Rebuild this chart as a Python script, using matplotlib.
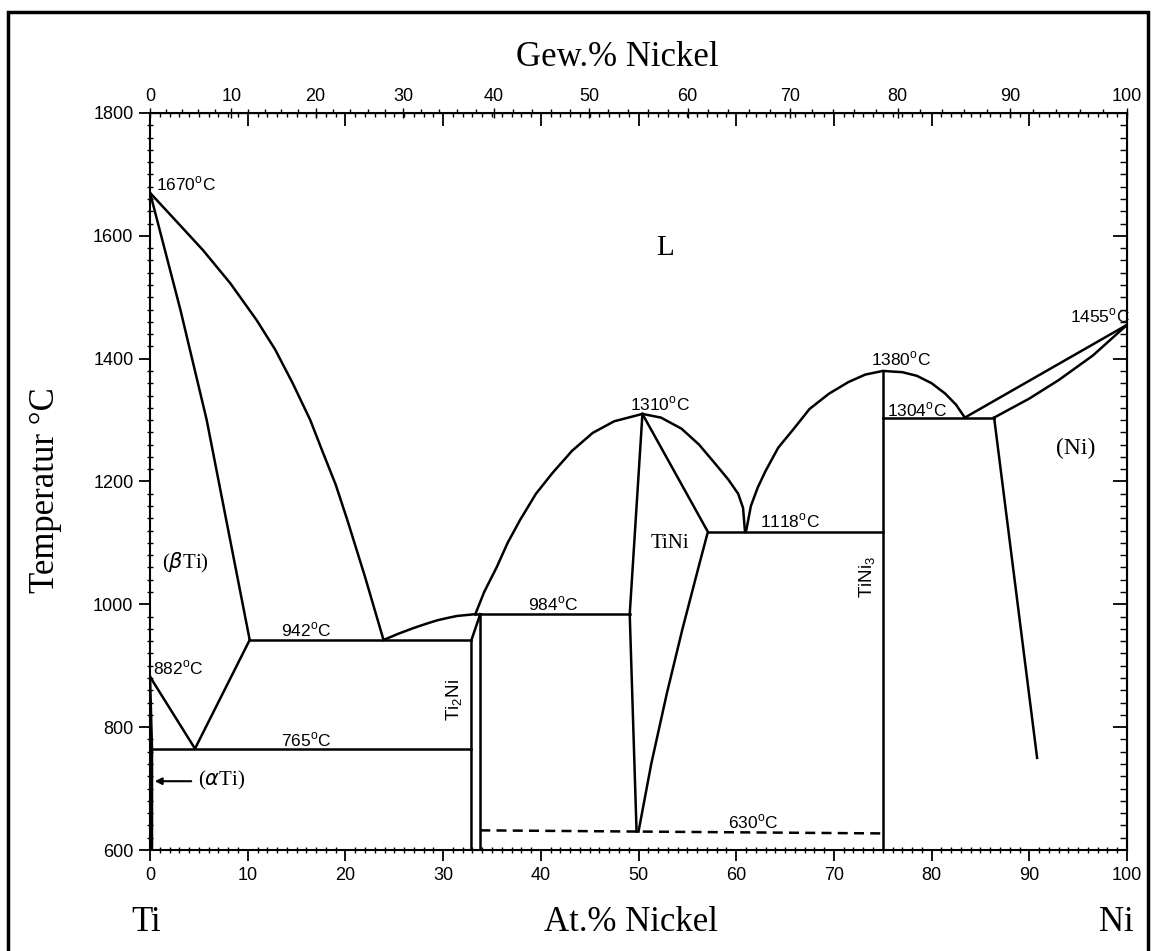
import numpy as np
import matplotlib
matplotlib.use('Agg')
import matplotlib.pyplot as plt
from matplotlib.patches import Rectangle

plt.rcParams['mathtext.fontset'] = 'custom'
plt.rcParams['mathtext.rm'] = 'Liberation Sans'
plt.rcParams['font.family'] = 'Liberation Sans'

M_NI, M_TI = 58.69, 47.87  # atomic masses, for the Gew.% scale on top

# --- phase boundaries (at.% Ni, temperature in C) ---
ti_liq_x = [0, 2.5, 5.4, 8.2, 10.9, 12.8, 14.6, 16.4, 17.6, 19.0, 20.2, 22.0, 23.9]
ti_liq_t = [1670, 1627, 1577, 1523, 1463, 1415, 1360, 1300, 1251, 1195, 1137, 1045, 942]
beta_sol_x = [0, 3.1, 5.8, 10.2]
beta_sol_t = [1670, 1480, 1300, 942]
beta_solv_x = [0, 4.6, 10.2]
beta_solv_t = [882, 765, 942]
alpha_x = [0, 0.2, 0.2]
alpha_t = [882, 765, 600]
eut765_x = [0.2, 32.9]
eut942_x = [10.2, 32.9]
ti2ni_l_x = [32.9, 32.9, 33.8]
ti2ni_l_t = [600, 942, 984]
ti2ni_r_x = [33.8, 33.8]
ti2ni_r_t = [984, 600]
liq2_x = [23.9, 25.4, 26.9, 28.2, 29.4, 30.5, 31.4, 33.3]
liq2_t = [942, 952, 961, 968, 974, 978, 981, 984]
per984_x = [33.3, 49.1]
dome1_x = [33.3, 34.2, 35.5, 36.6, 37.9, 39.5, 41.2, 43.2, 45.3, 47.5, 50.4,
           52.3, 54.4, 56.2, 57.9, 59.2, 60.2, 60.7, 60.9]
dome1_t = [984, 1020, 1061, 1100, 1138, 1180, 1214, 1250, 1279, 1298, 1310,
           1304, 1286, 1260, 1228, 1203, 1180, 1157, 1118]
tini_l_x = [50.4, 49.1, 49.8]
tini_l_t = [1310, 984, 630]
tini_r_x = [50.4, 57.1, 56.3, 54.5, 52.9, 51.3, 50.0]
tini_r_t = [1310, 1118, 1070, 960, 855, 740, 630]
eut1118_x = [57.1, 75]
dome2_x = [61.0, 61.5, 62.2, 63.0, 64.3, 65.9, 67.5, 69.5, 71.5, 73.2, 75.0,
           77.0, 78.5, 80.0, 81.4, 82.5, 83.4]
dome2_t = [1118, 1160, 1190, 1217, 1255, 1286, 1318, 1343, 1362, 1374, 1380,
           1378, 1372, 1360, 1343, 1325, 1304]
tini3_x = [75, 75]
tini3_t = [600, 1380]
eut1304_x = [75, 86.4]
ni_solv_x = [86.4, 90.8]
ni_solv_t = [1304, 750]
ni_liq_x = [83.4, 100]
ni_liq_t = [1304, 1455]
ni_sol_x = [86.4, 90.0, 93.0, 96.5, 100]
ni_sol_t = [1304, 1335, 1365, 1405, 1455]
ord630_x = [33.8, 75]
ord630_t = [632, 627]

# temperature labels: (x, T, text)
temp_labels = [
    (0.6, 1684, '1670'), (0.3, 897, '882'), (16.0, 958, '942'),
    (16.0, 779, '765'), (41.3, 1000, '984'), (52.2, 1327, '1310'),
    (61.7, 645, '630'), (65.5, 1136, '1118'), (76.9, 1400, '1380'),
    (78.5, 1317, '1304'), (100.3, 1470, '1455'),
]

wt_ticks = [0, 10, 20, 30, 40, 50, 60, 70, 80, 90, 100]


def at2wt(a):
    a = np.asarray(a, dtype=float)
    return 100 * a * M_NI / (a * M_NI + (100 - a) * M_TI)


def wt2at(w):
    w = np.asarray(w, dtype=float)
    return 100 * (w / M_NI) / (w / M_NI + (100 - w) / M_TI)


fig = plt.figure(figsize=(11.56, 9.51), dpi=100)
ax = fig.add_axes([0.1298, 0.1062, 0.8451, 0.775])

lw = 1.8
for xs, ts in [(ti_liq_x, ti_liq_t), (beta_sol_x, beta_sol_t), (beta_solv_x, beta_solv_t),
               (alpha_x, alpha_t), (ti2ni_l_x, ti2ni_l_t), (ti2ni_r_x, ti2ni_r_t),
               (liq2_x, liq2_t), (dome1_x, dome1_t), (tini_l_x, tini_l_t),
               (tini_r_x, tini_r_t), (dome2_x, dome2_t), (tini3_x, tini3_t),
               (ni_solv_x, ni_solv_t), (ni_liq_x, ni_liq_t), (ni_sol_x, ni_sol_t)]:
    ax.plot(xs, ts, color='k', lw=lw, solid_joinstyle='round')
for xs, t in [(eut765_x, 765), (eut942_x, 942), (per984_x, 984),
              (eut1118_x, 1118), (eut1304_x, 1304)]:
    ax.plot(xs, [t, t], color='k', lw=lw)
ax.plot(ord630_x, ord630_t, color='k', lw=lw, ls=(0, (4, 2.5)))

for x, t, s in temp_labels:
    ha = 'right' if s == '1455' else 'left' if s in ('1670', '882') else 'center'
    ax.text(x, t, s + r'$^{\rm o}$C', fontsize=12.5, ha=ha, va='center')

serif = 'Liberation Serif'
ax.text(52.7, 1580, 'L', fontsize=21, family=serif, ha='center', va='center')
ax.text(3.6, 1067, r'($\beta$Ti)', fontsize=15, family=serif, ha='center', va='center')
ax.text(7.3, 713, r'($\alpha$Ti)', fontsize=15, family=serif, ha='center', va='center')
ax.annotate('', xy=(0.2, 712), xytext=(4.5, 712),
            arrowprops=dict(arrowstyle='-|>', color='k', lw=1.5, mutation_scale=10))
ax.text(53.2, 1099, 'TiNi', fontsize=15, family=serif, ha='center', va='center')
ax.text(94.7, 1254, '(Ni)', fontsize=17, family=serif, ha='center', va='center')
ax.text(31.2, 845, r'Ti$_2$Ni', fontsize=13.5, rotation=90, ha='center', va='center')
ax.text(73.5, 1045, r'TiNi$_3$', fontsize=13.5, rotation=90, ha='center', va='center')

ax.set_xlim(0, 100)
ax.set_ylim(600, 1800)
for sp in ax.spines.values():
    sp.set_linewidth(1.5)

ax.set_xticks(np.arange(0, 101, 10))
ax.set_xticks(np.arange(0, 101, 1), minor=True)
ax.set_yticks(np.arange(600, 1801, 200))
ax.set_yticks(np.arange(600, 1801, 20), minor=True)
ax.tick_params(which='major', direction='out', length=8, width=1.3, labelsize=13, pad=4)
ax.tick_params(which='minor', direction='inout', length=5, width=1)

# right side ticks point inward
sy = ax.secondary_yaxis('right')
sy.set_yticks(np.arange(600, 1801, 200))
sy.set_yticks(np.arange(600, 1801, 20), minor=True)
sy.tick_params(which='major', direction='in', length=10, width=1.3, labelright=False)
sy.tick_params(which='minor', direction='in', length=5, width=1)

# top: at.% ticks inward, Gew.% labels
sx = ax.secondary_xaxis('top')
sx.set_xticks(np.arange(0, 101, 10))
sx.set_xticks(np.arange(0, 101, 1), minor=True)
sx.tick_params(which='major', direction='in', length=9, width=1.3, labeltop=False)
sx.tick_params(which='minor', direction='in', length=3, width=1)

sw = ax.secondary_xaxis('top', functions=(at2wt, wt2at))
sw.set_xticks(wt_ticks)
sw.set_xticks(np.arange(0, 101, 2), minor=True)
sw.tick_params(which='major', direction='inout', length=7, width=1, labelsize=13, pad=2)
sw.tick_params(which='minor', direction='out', length=3, width=1)

tfont = dict(family=serif, fontsize=25)
fig.text(0.534, 0.940, 'Gew.% Nickel', ha='center', va='center', **tfont)
fig.text(0.546, 0.030, 'At.% Nickel', ha='center', va='center', **tfont)
fig.text(0.126, 0.030, 'Ti', ha='center', va='center', **tfont)
fig.text(0.966, 0.030, 'Ni', ha='center', va='center', **tfont)
fig.text(0.039, 0.485, 'Temperatur °C', rotation=90, ha='center', va='center', **tfont)

fig.patches.append(Rectangle((0.007, -0.01), 0.986, 0.997, transform=fig.transFigure,
                             fill=False, lw=2.5, edgecolor='k'))

plt.savefig('out.png', dpi=100)
